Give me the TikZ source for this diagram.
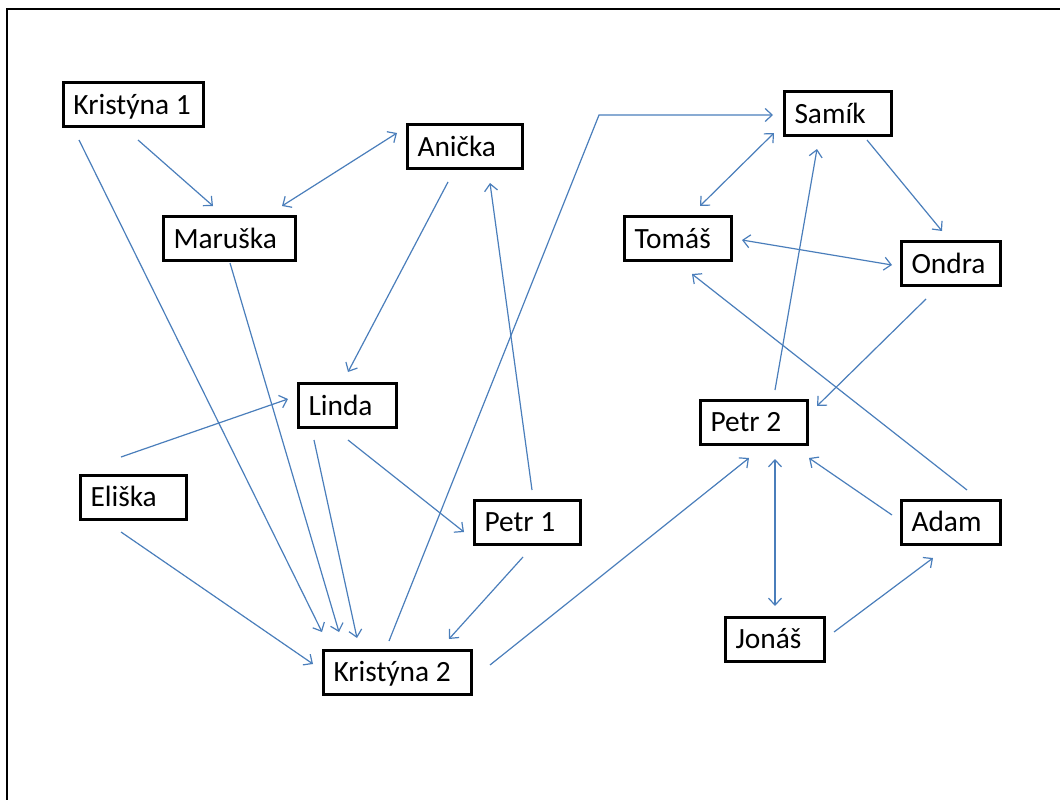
\documentclass[tikz,border=0pt]{standalone}
\usepackage{fontspec}
\setmainfont{Carlito}
\usetikzlibrary{arrows.meta}
\definecolor{linkblue}{HTML}{4A7EBB}
\tikzset{
  box/.style={draw=black, line width=3bp, rectangle, inner xsep=10bp, inner ysep=0bp,
    text height=19bp, text depth=0bp, minimum height=44bp,
    font=\fontsize{29.5}{34}\selectfont},
  link/.style={draw=linkblue, line width=1.2bp, -{Straight Barb[length=7bp,width=13bp,line width=1.2bp]}},
  dlink/.style={draw=linkblue, line width=1.2bp, {Straight Barb[length=7bp,width=13bp,line width=1.2bp]}-{Straight Barb[length=7bp,width=13bp,line width=1.2bp]}}
}
\newcommand{\at}[3]{([shift={(#2,#3)}]#1.center)}
\newcommand{\lbl}[2]{\makebox[#1][l]{#2}}
\begin{document}
\begin{tikzpicture}[x=1bp,y=-1bp]
\useasboundingbox (0,0) rectangle (1060,800);
\draw[line width=2.6bp] (7,805) -- (7,9) -- (1065,9);
% nodes
\node[box] (k1) at (133.5,104.5) {\lbl{120bp}{Kristýna 1}};
\node[box] (an) at (465,146.5) {\lbl{95bp}{Anička}};
\node[box] (ma) at (229.5,238.5) {\lbl{112bp}{Maruška}};
\node[box] (sa) at (838,113.5) {\lbl{87bp}{Samík}};
\node[box] (to) at (678,238.5) {\lbl{87bp}{Tomáš}};
\node[box] (on) at (951,263.5) {\lbl{79bp}{Ondra}};
\node[box] (li) at (347.5,405.5) {\lbl{78bp}{Linda}};
\node[box] (el) at (133.5,497) {\lbl{86bp}{Eliška}};
\node[box] (p1) at (527.5,522) {\lbl{86bp}{Petr 1}};
\node[box] (k2) at (397.5,672) {\lbl{128bp}{Kristýna 2}};
\node[box] (p2) at (754,422) {\lbl{87bp}{Petr 2}};
\node[box] (ad) at (951,522) {\lbl{79bp}{Adam}};
\node[box] (jo) at (775,639) {\lbl{79bp}{Jonáš}};
\coordinate (bend) at (599,115);
% connectors
\draw[link]  \at{k1}{4.5}{35.5} -- \at{ma}{-16.5}{-32.5};
\draw[link]  \at{k1}{-54.5}{35.5} -- \at{k2}{-75.5}{-40};
\draw[dlink] \at{ma}{52.5}{-32.5} -- \at{an}{-68}{-13.5};
\draw[link]  \at{ma}{0.5}{24.5} -- \at{k2}{-58.5}{-40};
\draw[link]  \at{an}{-17}{35.5} -- \at{li}{0.5}{-33.5};
\draw[link]  \at{p1}{4.5}{-32} -- \at{an}{25}{36.5};
\draw[link]  \at{k2}{-8.5}{-31} -- (bend) -- \at{sa}{-65}{1.5};
\draw[link]  \at{el}{-12.5}{-40} -- \at{li}{-59.5}{-6.5};
\draw[link]  \at{el}{-12.5}{35} -- \at{k2}{-84.5}{-8};
\draw[link]  \at{li}{-33.5}{34.5} -- \at{k2}{-40.5}{-34};
\draw[link]  \at{li}{0.5}{34.5} -- \at{p1}{-63.5}{10};
\draw[link]  \at{p1}{-4.5}{35} -- \at{k2}{51.5}{-33};
\draw[link]  \at{k2}{92.5}{-7} -- \at{p2}{-5}{36};
\draw[dlink] \at{sa}{-64}{19.5} -- \at{to}{22}{-32.5};
\draw[link]  \at{sa}{29}{26.5} -- \at{on}{-9}{-32.5};
\draw[link]  \at{p2}{21}{-32} -- \at{sa}{-21}{35.5};
\draw[dlink] \at{to}{64}{1.5} -- \at{on}{-59}{1.5};
\draw[link]  \at{ad}{16}{-32} -- \at{to}{14}{35.5};
\draw[link]  \at{on}{-25}{35.5} -- \at{p2}{63}{-16};
\draw[link]  \at{ad}{-59}{-7} -- \at{p2}{55}{36};
\draw[dlink] \at{p2}{21}{37} -- \at{jo}{0}{-33};
\draw[link]  \at{jo}{59}{-7} -- \at{ad}{-18}{36};
\end{tikzpicture}
\end{document}
